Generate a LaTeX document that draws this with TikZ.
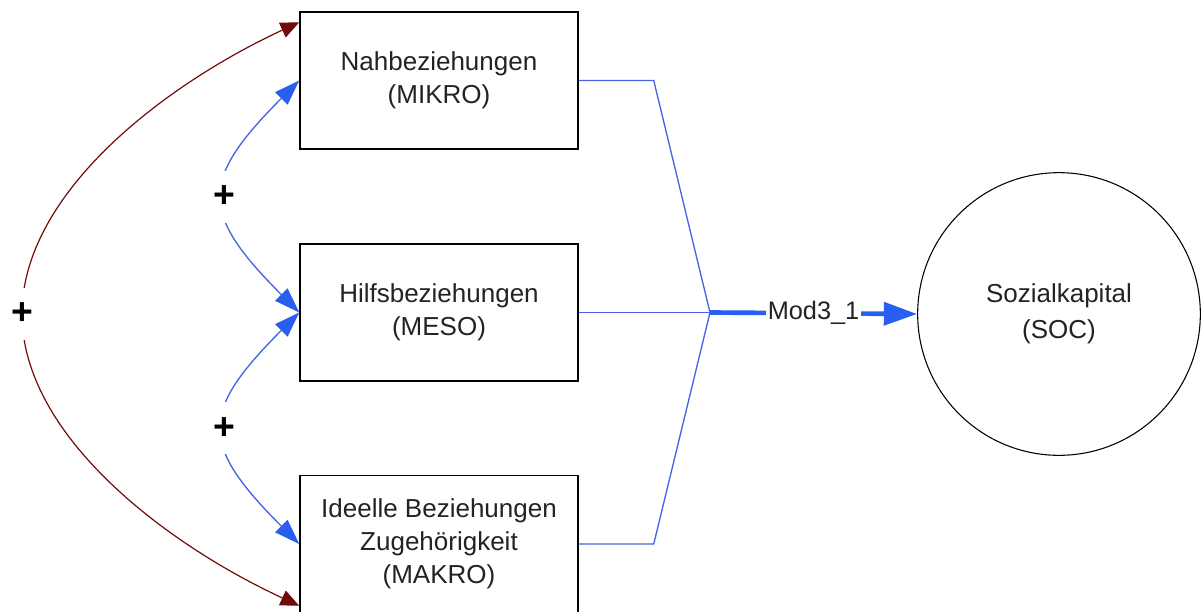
\documentclass[tikz,border=0pt]{standalone}
\usepackage{fontspec}
\setmainfont{Liberation Sans}
\usetikzlibrary{arrows.meta}
\definecolor{lnblue}{RGB}{70,100,225}
\definecolor{tipblue}{RGB}{40,95,240}
\definecolor{dred}{RGB}{115,10,10}
\definecolor{txt}{RGB}{35,35,35}
\begin{document}
\begin{tikzpicture}[x=0.75pt,y=-0.75pt,
  box/.style={draw=black,line width=1.1pt,minimum width=208.5pt,minimum height=102.75pt,
    align=center,inner sep=0pt,text=txt,font=\fontsize{19.5}{24.75}\selectfont},
  bigcircle/.style={circle,draw=black,line width=0.8pt,minimum size=212pt,inner sep=0pt,
    align=center,text=txt,font=\fontsize{19.5}{27}\selectfont},
  plus/.style={fill=white,inner xsep=1pt,inner ysep=0pt,minimum height=39pt,
    font=\bfseries\fontsize{28}{28}\selectfont},
  bluearc/.style={draw=lnblue,line width=1pt,
    {Triangle[length=19pt,width=13pt,color=tipblue]}-{Triangle[length=19pt,width=13pt,color=tipblue]}},
  redarc/.style={draw=dred,line width=0.9pt,
    {Triangle[length=14pt,width=12pt,color=dred]}-{Triangle[length=14pt,width=12pt,color=dred]}},
  thinline/.style={draw=lnblue,line width=1pt},
  thickline/.style={draw=tipblue,line width=3.5pt,-{Triangle[length=25pt,width=17pt]}},
  lbl/.style={fill=white,inner xsep=1.5pt,inner ysep=1pt,text=txt,font=\fontsize{19}{19}\selectfont}]
\useasboundingbox (0,0) rectangle (1203,611);

\node[box] (b1) at (439,80.5) {Nahbeziehungen\\(MIKRO)};
\node[box] (b2) at (439,312.5) {Hilfsbeziehungen\\(MESO)};
\node[box] (b3) at (439,544) {Ideelle Beziehungen\\Zugehörigkeit\\(MAKRO)};
\node[bigcircle] (soc) at (1059,314) {Sozialkapital\\(SOC)};

\coordinate (j) at (710,312.5);
\coordinate (m) at (22,314);
\coordinate (rt) at ([yshift=-8.25pt]b1.north west);
\coordinate (rb) at ([yshift=5.6pt]b3.south west);

% blue lines into junction
\draw[thinline] (b1.east) -- ++(75,0) -- (j);
\draw[thinline] (b2.east) -- (j);
\draw[thinline] (b3.east) -- ++(75,0) -- (j);
\draw[thickline] (j) -- node[lbl] {Mod3\_1} (soc.west);

% blue feedback arcs
\draw[bluearc] (b1.west) .. controls +(-100,100) and +(-100,-100) .. node[plus] {+} (b2.west);
\draw[bluearc] (b2.west) .. controls +(-100,100) and +(-100,-100) .. node[plus] {+} (b3.west);

% dark red outer arc
\draw[redarc] (rt) .. controls +(-136,63) and +(0,-120) .. (m) node[plus] {+}
  .. controls +(0,120) and +(-136,-63) .. (rb);
\end{tikzpicture}
\end{document}
